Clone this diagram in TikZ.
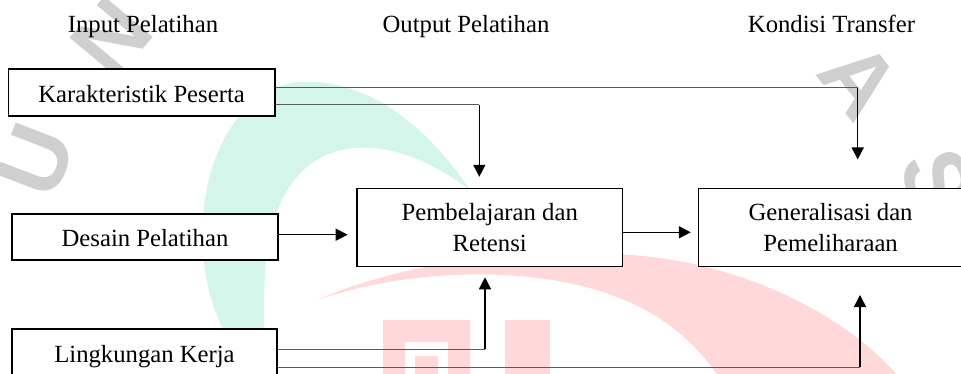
\documentclass[tikz,border=0pt]{standalone}
\usepackage{fontspec}
\setmainfont{Liberation Serif}
\newfontfamily\markfont{Liberation Sans}
\usetikzlibrary{arrows.meta}
\definecolor{mint}{HTML}{D3F5EA}
\definecolor{rosy}{HTML}{FFD9D9}
\definecolor{markgray}{HTML}{CFCFCF}
\definecolor{linkgray}{HTML}{5A5A5A}
\begin{document}
\begin{tikzpicture}[x=1pt,y=-1pt,
  every node/.style={font=\fontsize{24.7}{30.7}\selectfont, inner sep=0pt},
  block/.style={draw=black, line width=1.5pt, fill=white,
    text height=19.6pt, text depth=0pt},
  twoline/.style={draw=black, line width=1.5pt, fill=white, align=center},
  header/.style={anchor=base},
  hline/.style={draw=linkgray, line width=1pt},
  vline/.style={draw=black, line width=1.5pt},
  tip/.style={-{Triangle[width=12pt,length=12pt]}},
  markletter/.style={text=markgray, font=\markfont\bfseries\fontsize{92}{92}\selectfont}
]
\useasboundingbox (0,0) rectangle (961,374);
\clip (0,0) rectangle (961,374);

% background emblem
\fill[mint] (264,376) .. controls (215,345) and (195,270) .. (205,200)
  .. controls (215,130) and (255,85) .. (300,82)
  .. controls (370,78) and (430,130) .. (470,190)
  .. controls (430,160) and (390,145) .. (355,148)
  .. controls (300,152) and (272,200) .. (266,260)
  .. controls (262,310) and (264,350) .. (268,376) -- cycle;
\fill[rosy] (317,300) .. controls (420,255) and (560,245) .. (660,258)
  .. controls (760,272) and (850,320) .. (898,376) -- (718,376)
  .. controls (680,320) and (620,285) .. (520,276)
  .. controls (440,270) and (370,282) .. (317,300) -- cycle;
\fill[rosy, even odd rule] (383,320) rectangle (470,376) (405,342) rectangle (448,376);
\fill[rosy] (415,356) rectangle (438,376);
\fill[rosy] (505,320) rectangle (550,376);
\node[markletter, rotate=69] (wu) at (36,160) {U};
\node[markletter, rotate=50] (wn) at (112,38) {N};
\node[markletter, rotate=-52] (wa) at (860,80) {A};
\node[markletter, rotate=-72] (ws) at (938,182) {S};

% column headings
\node[header] (h1) at (143,32.5) {Input Pelatihan};
\node[header] (h2) at (466,32.5) {Output Pelatihan};
\node[header] (h3) at (831.5,32.5) {Kondisi Transfer};

% boxes
\node[block, minimum width=266.7pt, minimum height=46.7pt] (kp) at (141.6,92.6) {Karakteristik Peserta};
\node[block, minimum width=266pt, minimum height=46pt] (dp) at (145,237) {Desain Pelatihan};
\node[block, minimum width=265pt, minimum height=47pt] (lk) at (144.5,352.6) {Lingkungan Kerja};
\node[twoline, minimum width=265.5pt, minimum height=77.7pt, yshift=-0.7pt] (pr) at (489.7,226.9) {Pembelajaran dan\\Retensi};
\node[twoline, minimum width=264.7pt, minimum height=77.7pt, yshift=-0.7pt] (gp) at (830.6,226.9) {Generalisasi dan\\Pemeliharaan};

% corner and end points of the connectors
\coordinate (k1) at (857.7,87.7);
\coordinate (k1e) at (857.7,159.5);
\coordinate (k2) at (479.3,104.3);
\coordinate (k2e) at (479.3,176.8);
\coordinate (d1e) at (347.7,234.7);
\coordinate (p1e) at (690.8,232.3);
\coordinate (l1) at (485,349);
\coordinate (l1e) at (485,277.3);
\coordinate (l2) at (860,367.5);
\coordinate (l2e) at (860,295);

% Karakteristik Peserta -> Generalisasi dan Pemeliharaan
\draw[hline] (kp.east |- k1) -- (k1);
\draw[vline, tip] ([yshift=-0.5pt]k1) -- (k1e);
% Karakteristik Peserta -> Pembelajaran dan Retensi
\draw[hline] (kp.east |- k2) -- (k2);
\draw[vline, tip] ([yshift=-0.5pt]k2) -- (k2e);
% Desain Pelatihan -> Pembelajaran dan Retensi
\draw[vline, tip] (dp.east |- d1e) -- (d1e);
% Pembelajaran dan Retensi -> Generalisasi dan Pemeliharaan
\draw[vline, tip] (pr.east |- p1e) -- (p1e);
% Lingkungan Kerja -> Pembelajaran dan Retensi
\draw[hline] (lk.east |- l1) -- (l1);
\draw[vline, tip] ([yshift=0.5pt]l1) -- (l1e);
% Lingkungan Kerja -> Generalisasi dan Pemeliharaan
\draw[hline] (lk.east |- l2) -- (l2);
\draw[vline, tip] ([yshift=0.5pt]l2) -- (l2e);
\end{tikzpicture}
\end{document}
